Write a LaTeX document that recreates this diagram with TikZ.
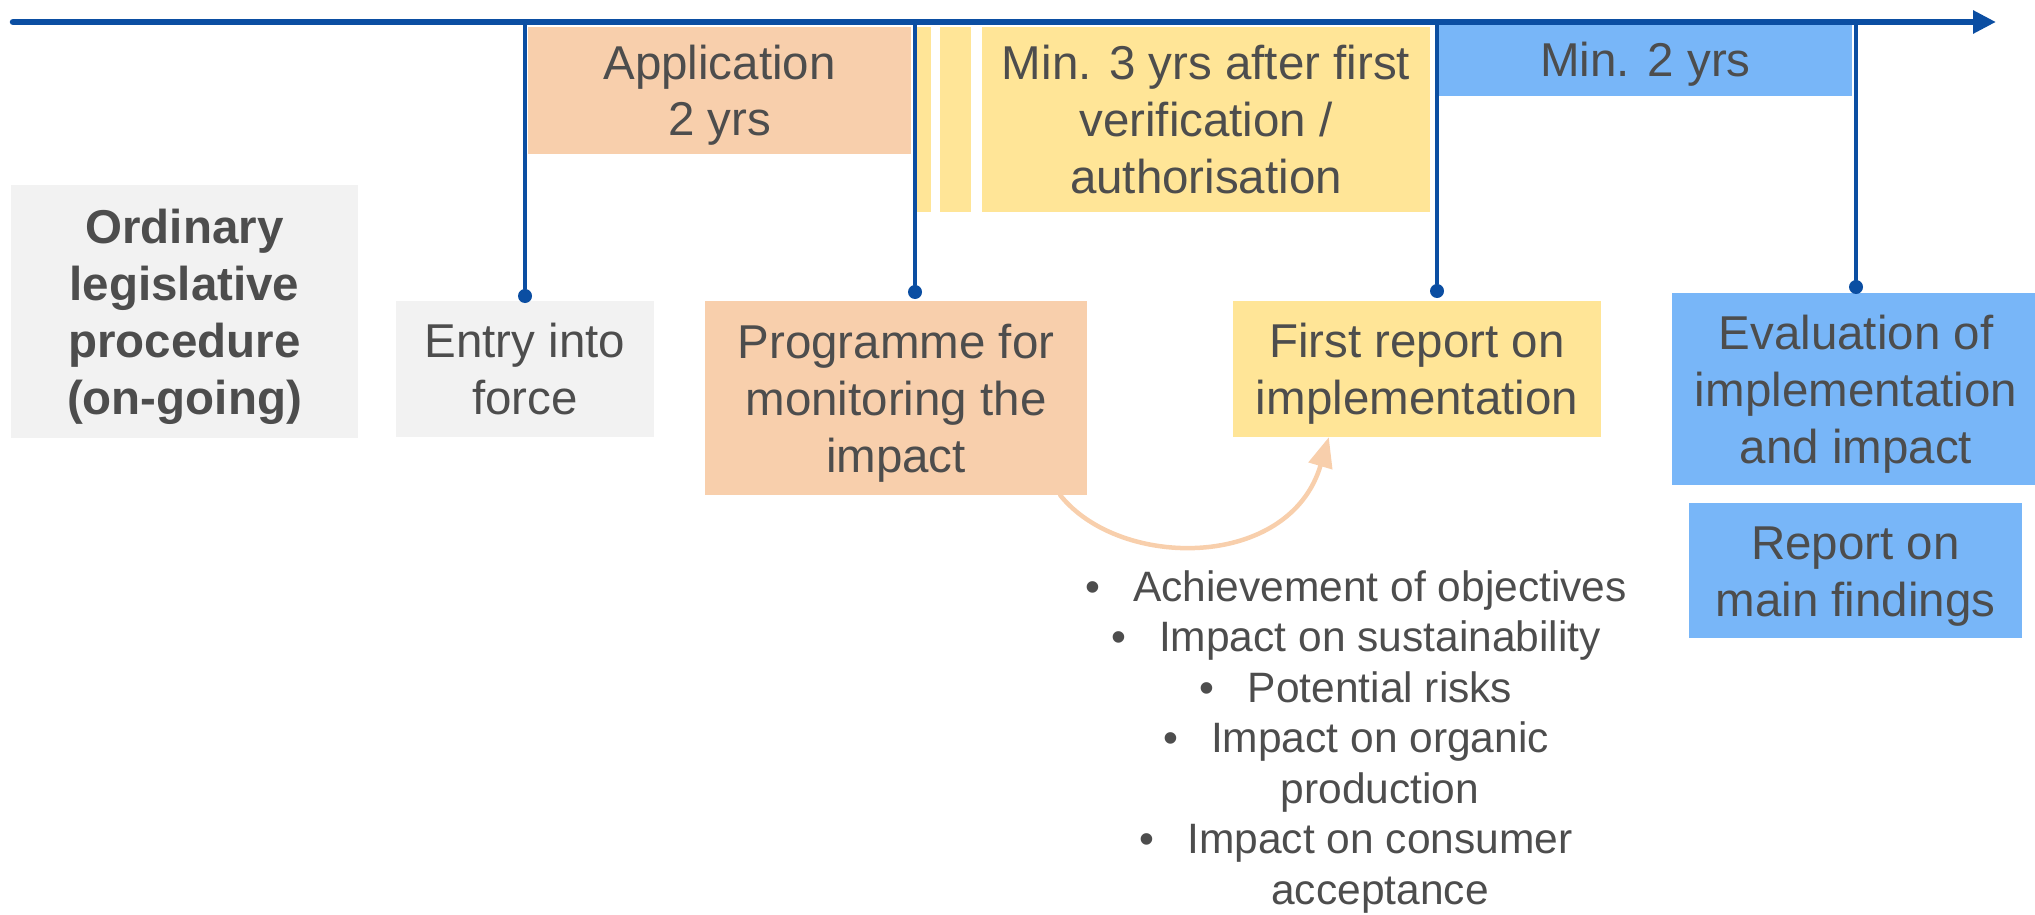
\documentclass[tikz,border=0pt]{standalone}
\usepackage{fontspec}
\setmainfont{Liberation Sans}
\usepackage{pgf,tikz}
\usetikzlibrary{arrows,arrows.meta}
\definecolor{qbteae}{rgb}{0.043,0.306,0.635}
\definecolor{focfac}{rgb}{0.973,0.812,0.675}
\definecolor{ffezpi}{rgb}{1,0.898,0.592}
\definecolor{iobufo}{rgb}{0.471,0.714,0.973}
\definecolor{fefefe}{rgb}{0.949,0.949,0.949}
\definecolor{tdtdtd}{rgb}{0.302,0.302,0.302}
\newcommand{\tlstrut}{\rule[-11.5pt]{0pt}{57pt}}

\begin{document}
\begin{tikzpicture}[line cap=round,line join=round,>={Triangle[length=23pt,width=22pt]},x=1pt,y=-1pt,
	box/.style={inner sep=0pt,align=center,text=tdtdtd,font=\fontsize{47.5}{57}\selectfont},
	list/.style={inner sep=0pt,align=center,text=tdtdtd,font=\fontsize{42.5}{50.5}\selectfont},
	dot/.style={circle,fill=qbteae,inner sep=0pt,minimum size=14pt},
	tick/.style={color=qbteae,line width=3.5pt}]
		\useasboundingbox (0,0) rectangle (2035,915);
			\node[box,font=\fontsize{47.5}{57}\selectfont\bfseries,fill=fefefe,minimum width=347pt,minimum height=253pt] (ord) at (184.5,311.5) {\tlstrut Ordinary\\legislative\\procedure\\(on-going)\tlstrut};
			\node[box,fill=fefefe,minimum width=258pt,minimum height=136pt] (entry) at (525,369) {\tlstrut Entry into\\force\tlstrut};
			\node[box,fill=focfac,minimum width=383pt,minimum height=127pt] (appl) at (719.5,90.5) {\tlstrut Application\\2 yrs\tlstrut};
			\fill[color=ffezpi] (916,27) rectangle (931,212);
			\fill[color=ffezpi] (940,27) rectangle (971,212);
			\node[box,fill=ffezpi,minimum width=448pt,minimum height=185pt] (minthree) at (1206,119.5) {\tlstrut Min. 3 yrs after first\\verification /\\authorisation\tlstrut};
			\node[box,fill=iobufo,minimum width=413pt,minimum height=72pt] (mintwo) at (1645.5,60) {\tlstrut Min. 2 yrs\tlstrut};
			\node[box,fill=focfac,minimum width=382pt,minimum height=194pt] (prog) at (896,398) {\tlstrut Programme for\\monitoring the\\impact\tlstrut};
			\node[box,fill=ffezpi,minimum width=368pt,minimum height=136pt] (first) at (1417,369) {\tlstrut First report on\\implementation\tlstrut};
			\node[box,fill=iobufo,minimum width=368pt,minimum height=192pt] (eval) at (1856,389) {\tlstrut Evaluation of\\implementation\\and impact\tlstrut};
			\node[box,fill=iobufo,minimum width=333pt,minimum height=135pt] (findings) at (1855.5,570.5) {\tlstrut Report on\\main findings\tlstrut};
		\coordinate (tstart) at (13,22);
		\coordinate (tend) at (1996,22);
		\draw [->,color=qbteae,line width=6.5pt] (tstart)-- (tend);
		\node[dot] (d1) at (525,296) {};
		\node[dot] (d2) at (915,292) {};
		\node[dot] (d3) at (1437,291) {};
		\node[dot] (d4) at (1856,287) {};
		\draw [tick] (d1)-- (d1 |- tstart);
		\draw [tick] (d2)-- (d2 |- tstart);
		\draw [tick] (d3)-- (d3 |- tstart);
		\draw [tick] (d4)-- (d4 |- tstart);
		\draw [->,color=focfac,line width=4.5pt,>={Triangle[length=30pt,width=24pt]}] ([xshift=-27pt]prog.south east) .. controls +(60,75) and +(-39,133) .. ([xshift=96pt]first.south west);
		\node[list] (aims) at (1380,742) {\llap{\textbullet\hspace{33pt}}Achievement of objectives\\\llap{\textbullet\hspace{33pt}}Impact on sustainability\\\llap{\textbullet\hspace{33pt}}Potential risks\\\llap{\textbullet\hspace{33pt}}Impact on organic\\production\\\llap{\textbullet\hspace{33pt}}Impact on consumer\\acceptance};
	\end{tikzpicture}
\end{document}
